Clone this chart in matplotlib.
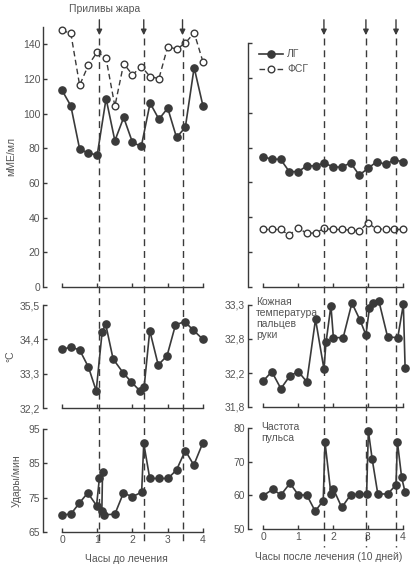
import matplotlib.pyplot as plt
import matplotlib.transforms as mtransforms
from matplotlib.lines import Line2D
from matplotlib.patches import FancyArrowPatch

plt.rcParams['font.family'] = ['Liberation Sans', 'DejaVu Sans']
plt.rcParams['font.size'] = 7.5

#----------data----------
quarter_hours = [0, 0.25, 0.5, 0.75, 1, 1.25, 1.5, 1.75, 2, 2.25, 2.5, 2.75, 3, 3.25, 3.5, 3.75, 4]

lh_before = [113.5, 104.5, 79.6, 77.1, 76.3, 108.7, 84.4, 97.8, 83.4, 81.1, 106.1, 96.8, 103.2, 86.3, 92.1, 126.6, 104.5]
fsh_before = [148.1, 146.3, 116.4, 128.1, 135.6, 131.9, 104.3, 128.9, 122.4, 127.2, 121.4, 120.2, 138.7, 137.2, 140.7, 146.7, 129.9]
lh_after = [74.8, 73.3, 73.3, 66.2, 66.2, 69.4, 69.6, 71.0, 69.0, 68.7, 71.3, 64.2, 68.1, 71.9, 70.4, 72.9, 71.9]
fsh_after = [33.0, 33.0, 33.0, 29.7, 34.1, 30.7, 31.1, 33.6, 33.0, 33.0, 32.6, 32.2, 36.8, 33.0, 33.4, 33.0, 33.0]

temp_before_h = [0, 0.25, 0.5, 0.75, 0.97, 1.14, 1.24, 1.45, 1.74, 1.97, 2.21, 2.33, 2.49, 2.73, 2.98, 3.22, 3.48, 3.72, 4.0]
temp_before = [34.08, 34.15, 34.06, 33.51, 32.75, 34.65, 34.88, 33.77, 33.32, 33.03, 32.75, 32.87, 34.68, 33.58, 33.87, 34.86, 34.97, 34.70, 34.40]

pulse_before_h = [0, 0.25, 0.49, 0.73, 0.98, 1.06, 1.15, 1.13, 1.2, 1.5, 1.74, 2.0, 2.26, 2.32, 2.49, 2.75, 3.01, 3.25, 3.5, 3.74, 3.99]
pulse_before = [70, 70.2, 73.4, 76.4, 72.7, 80.6, 82.6, 71.0, 70.0, 70.2, 76.3, 75.3, 76.6, 90.8, 80.6, 80.6, 80.6, 83.1, 88.7, 84.5, 90.8]

temp_after_h = [0, 0.25, 0.51, 0.77, 1.01, 1.25, 1.5, 1.74, 1.8, 1.94, 2.01, 2.29, 2.54, 2.77, 2.94, 3.04, 3.13, 3.31, 3.56, 3.85, 4.01, 4.06]
temp_after = [32.18, 32.32, 32.07, 32.26, 32.32, 32.17, 33.09, 32.36, 32.75, 33.29, 32.82, 32.82, 33.33, 33.08, 32.86, 33.25, 33.33, 33.36, 32.83, 32.82, 33.31, 32.38]

pulse_after_h = [0, 0.28, 0.51, 0.77, 1.01, 1.25, 1.49, 1.72, 1.77, 1.94, 2.01, 2.25, 2.5, 2.74, 2.96, 3.01, 3.12, 3.28, 3.56, 3.8, 3.84, 3.96, 4.06]
pulse_after = [59.9, 61.8, 60.1, 63.6, 60.1, 60.1, 55.3, 58.4, 75.9, 60.4, 61.9, 56.4, 60.1, 60.4, 60.4, 79.1, 70.7, 60.4, 60.4, 63.1, 75.9, 65.4, 60.9]

flashes_before = [1.06, 2.32, 3.42]
flashes_after = [1.74, 2.94, 3.8]

hour_ticks = [0, 1, 2, 3, 4]
hormone_ticks = [0, 20, 40, 60, 80, 100, 120, 140]
temp_before_ticks = [32.2, 33.3, 34.4, 35.5]
temp_before_labels = ['32,2', '33,3', '34,4', '35,5']
temp_after_ticks = [31.8, 32.3, 32.8, 33.3]
temp_after_labels = ['31,8', '32,2', '32,8', '33,3']
pulse_before_ticks = [65, 75, 85, 95]
pulse_after_ticks = [50, 60, 70, 80]

#----------layout helpers----------
W, H = 414, 567
INK = '#3a3a3a'
TXT = '#555555'

fig = plt.figure(figsize=(W / 100, H / 100), dpi=100)
fig.patch.set_facecolor('white')


def rect(l, t, r, b):
    return [l / W, 1 - b / H, (r - l) / W, (b - t) / H]


def style(ax, xlim, ylim, yticks, ylabels=None, xlabels=False):
    ax.set_xlim(*xlim)
    ax.set_ylim(*ylim)
    for s in ['top', 'right']:
        ax.spines[s].set_visible(False)
    for s in ['left', 'bottom']:
        ax.spines[s].set_color(INK)
        ax.spines[s].set_linewidth(1.0)
    ax.spines['bottom'].set_bounds(0, 4)
    ax.set_xticks(hour_ticks)
    ax.set_yticks(yticks)
    if ylabels is not None:
        ax.set_yticklabels(ylabels)
    if not xlabels:
        ax.set_xticklabels([])
    ax.tick_params(direction='in', length=3, width=1, colors=INK,
                   labelcolor=TXT, labelsize=7.5, pad=2)
    ax.set_facecolor('none')


def lh_line(ax, x, y, **kw):
    ax.plot(x, y, '-', color=INK, lw=1.2, marker='o', ms=5.2,
            mfc=INK, mec=INK, zorder=3, clip_on=False, **kw)


def fsh_line(ax, x, y, **kw):
    ax.plot(x, y, '--', color=INK, lw=1.0, dashes=(4, 2.5),
            marker='o', ms=4.8, mfc='white', mec=INK, mew=1.0, zorder=3,
            clip_on=False, **kw)


ax_lt = fig.add_axes(rect(43, 27, 210, 287))
ax_lm = fig.add_axes(rect(43, 305, 210, 408))
ax_lb = fig.add_axes(rect(43, 429, 210, 532))
ax_rt = fig.add_axes(rect(248, 43, 410, 287))
ax_rm = fig.add_axes(rect(248, 305, 410, 407))
ax_rb = fig.add_axes(rect(248, 428, 410, 529))

xl_left = (-0.54, 4.2)
xl_right = (-0.43, 4.2)

#----------hormones----------
fsh_line(ax_lt, quarter_hours, fsh_before)
lh_line(ax_lt, quarter_hours, lh_before)
style(ax_lt, xl_left, (0, 150), hormone_ticks)
ax_lt.set_ylabel('мМЕ/мл', color=TXT, fontsize=7.5, labelpad=5)

fsh_line(ax_rt, quarter_hours, fsh_after, label='ФСГ')
lh_line(ax_rt, quarter_hours, lh_after, label='ЛГ')
style(ax_rt, xl_right, (0, 140), hormone_ticks, ylabels=[])
h, lab = ax_rt.get_legend_handles_labels()
leg = ax_rt.legend(h[::-1], lab[::-1], loc='upper left', bbox_to_anchor=(0.03, 1.0),
                   frameon=False, handlelength=2.3, handletextpad=0.4,
                   labelspacing=0.5, fontsize=7.5, borderaxespad=0.2)
for t in leg.get_texts():
    t.set_color(TXT)

#----------temperature----------
lh_line(ax_lm, temp_before_h, temp_before)
style(ax_lm, xl_left, (32.2, 35.5), temp_before_ticks, temp_before_labels)
ax_lm.set_ylabel('°C', color=TXT, fontsize=7.5, labelpad=3)

lh_line(ax_rm, temp_after_h, temp_after)
style(ax_rm, xl_right, (31.8, 33.3), temp_after_ticks, temp_after_labels)
ax_rm.text(0.05, 1.08, 'Кожная\nтемпература\nпальцев\nруки', transform=ax_rm.transAxes,
           ha='left', va='top', color=TXT, fontsize=7.5, linespacing=1.15)

#----------pulse----------
lh_line(ax_lb, pulse_before_h, pulse_before)
style(ax_lb, xl_left, (65, 95), pulse_before_ticks, xlabels=True)
ax_lb.set_ylabel('Удары/мин', color=TXT, fontsize=7.5, labelpad=5)
ax_lb.set_xlabel('Часы до лечения', color=TXT, fontsize=7.5, labelpad=7)

lh_line(ax_rb, pulse_after_h, pulse_after)
style(ax_rb, xl_right, (50, 80), pulse_after_ticks, xlabels=True)
ax_rb.set_xlabel('Часы после лечения (10 дней)', color=TXT, fontsize=7.5, labelpad=7)
ax_rb.text(0.08, 1.06, 'Частота\nпульса', transform=ax_rb.transAxes,
           ha='left', va='top', color=TXT, fontsize=7.5, linespacing=1.15)

#----------hot flash markers----------
for ax, flashes, y_end in [(ax_lt, flashes_before, 545), (ax_rt, flashes_after, 547)]:
    tr = mtransforms.blended_transform_factory(ax.transData, fig.transFigure)
    for xf in flashes:
        fig.add_artist(Line2D([xf, xf], [1 - 38 / H, 1 - y_end / H], transform=tr,
                              color=INK, lw=1.0, dashes=(5, 3.5), zorder=1))
        fig.add_artist(FancyArrowPatch((xf, 1 - 17 / H), (xf, 1 - 38 / H), transform=tr,
                                       arrowstyle='-|>', mutation_scale=8,
                                       color=INK, lw=1.0))

fig.text(105 / W, 1 - 9 / H, 'Приливы жара', ha='center', va='center',
         color=TXT, fontsize=7.5)

fig.savefig('out.png', dpi=100, facecolor='white')
